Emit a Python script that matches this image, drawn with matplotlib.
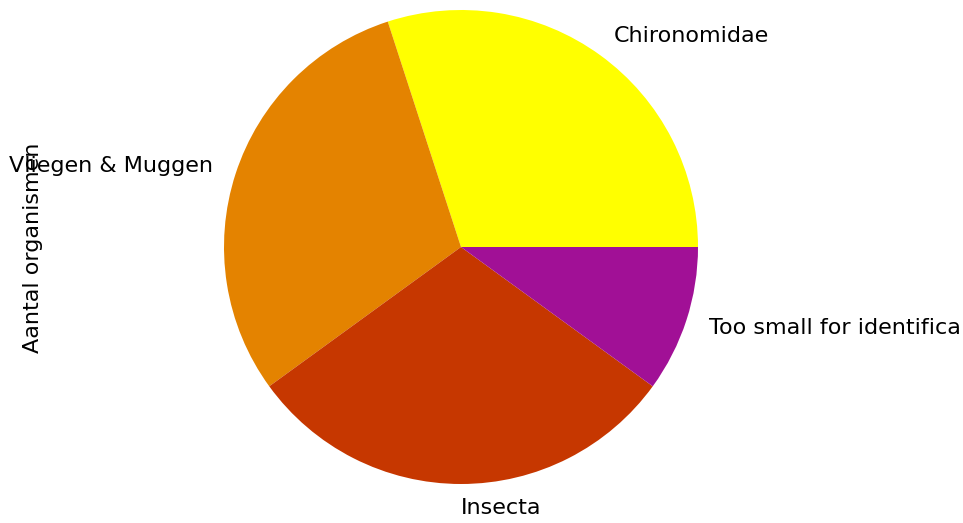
import matplotlib
matplotlib.use("Agg")
import matplotlib.pyplot as plt
import numpy as np

plt.rcParams["font.family"] = ["DejaVu Sans"]

# organism counts per group (last label is shown cut short in the original)
labels = ["Chironomidae", "Vliegen & Muggen", "Insecta", "Too small for identifica"]
counts = [3, 3, 3, 1]
colors = plt.cm.gnuplot([1.0, 0.8, 0.6, 0.4])

fig = plt.figure(figsize=(9.63, 5.23), dpi=100)
ax = fig.add_axes([0, 0, 1, 1])

ax.pie(counts, labels=labels, colors=colors, textprops={"fontsize": 16})

# place the pie like the original (center at 461,247 px, radius 237 px)
r = 237.0
ax.set_aspect("auto")
ax.set_xlim(-461 / r, (963 - 461) / r)
ax.set_ylim(-(523 - 247) / r, 247 / r)

fig.text(33 / 963, 1 - 248 / 523, "Aantal organismen", rotation=90,
         ha="center", va="center", fontsize=16)

fig.savefig("out.png", dpi=100)
